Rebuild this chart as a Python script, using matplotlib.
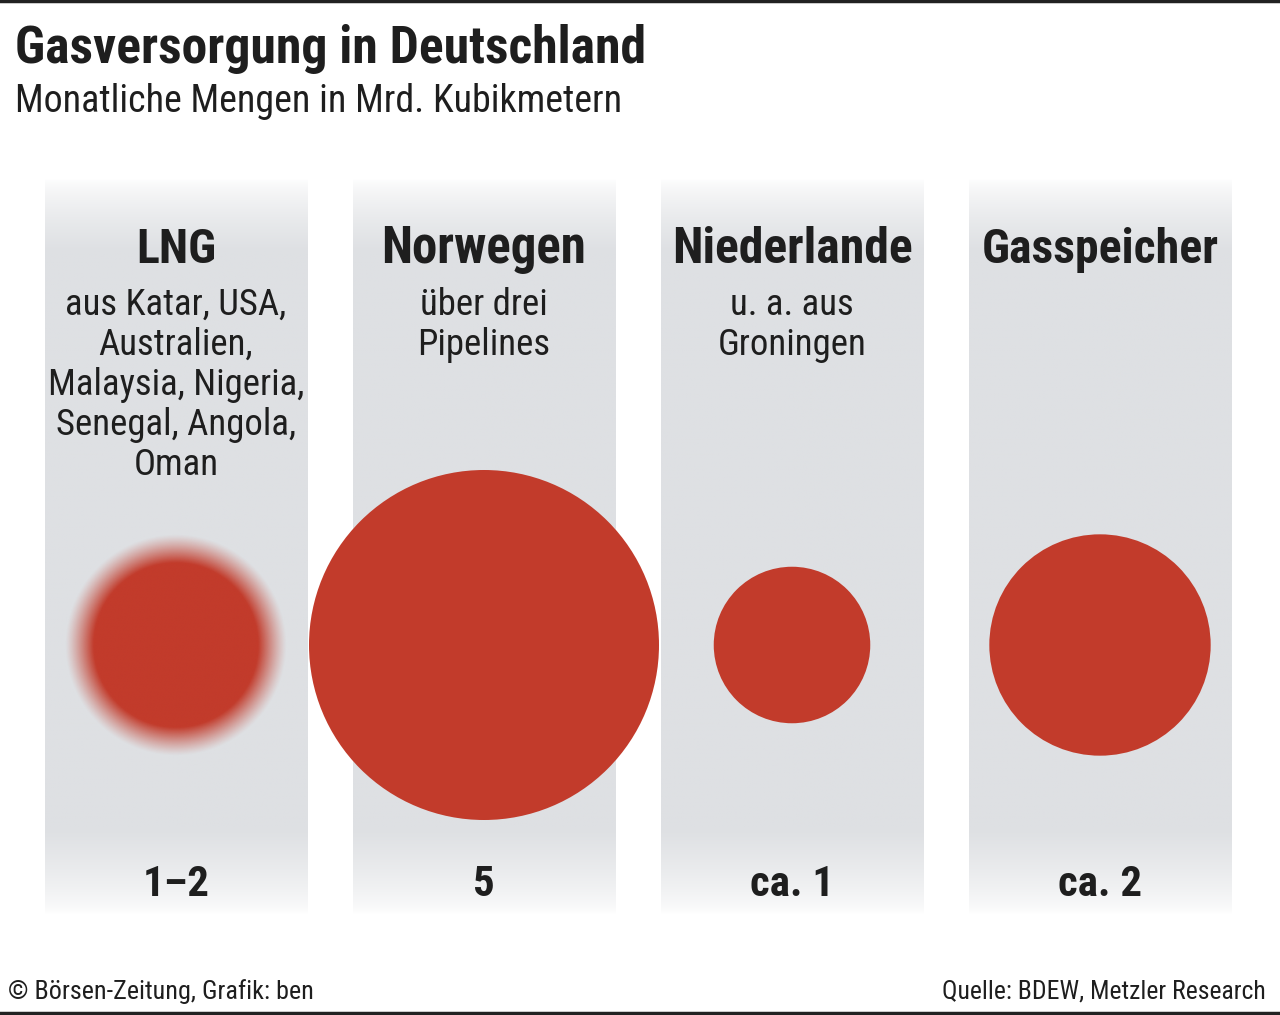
import numpy as np
import matplotlib
matplotlib.use("Agg")
import matplotlib.pyplot as plt
from matplotlib.patches import Circle

# === Daten === #
categories = ["LNG", "Norwegen", "Niederlande", "Gasspeicher"]
descriptions = [
    "aus Katar, USA,\nAustralien,\nMalaysia, Nigeria,\nSenegal, Angola,\nOman",
    "über drei\nPipelines",
    "u. a. aus\nGroningen",
    "",
]
value_labels = ["1–2", "5", "ca. 1", "ca. 2"]
values_low = [1, 5, 1, 2]
values_high = [2, 5, 1, 2]

title = "Gasversorgung in Deutschland"
subtitle = "Monatliche Mengen in Mrd. Kubikmetern"
credit = "© Börsen-Zeitung, Grafik: ben"
source = "Quelle: BDEW, Metzler Research"

RED = "#c23b2b"
INK = "#1e1e1e"
GRAY = np.array([222, 224, 227]) / 255.0
FONT = ["Roboto Condensed", "Roboto", "DejaVu Sans"]

W, H = 1280, 1015
fig = plt.figure(figsize=(W / 100, H / 100), dpi=100)
ax = fig.add_axes([0, 0, 1, 1])
ax.set_xlim(0, W)
ax.set_ylim(H, 0)
ax.axis("off")
renderer = fig.canvas.get_renderer()


def fit(txt, target_w):
    # Schriftgröße so setzen, dass die Breite passt
    w = txt.get_window_extent(renderer).width
    txt.set_fontsize(txt.get_fontsize() * target_w / w)
    return txt


# === Säulen mit Verlauf === #
col_w = 263
centers = [176 + 308 * i for i in range(4)]
y_top, y_bot = 178, 915
ys = np.linspace(y_top, y_bot, 400)
t = np.ones_like(ys)
t = np.where(ys < 250, (ys - y_top) / (250 - y_top), t)
t = np.where(ys > 830, (y_bot - ys) / (y_bot - 830), t)
t = np.clip(t, 0, 1) ** 0.7
col = np.ones((len(ys), 1, 3)) * (1 - t[:, None, None]) + GRAY * t[:, None, None]
for cx in centers:
    ax.imshow(col, extent=[cx - col_w / 2, cx + col_w / 2, y_bot, y_top],
              aspect="auto", interpolation="bilinear", zorder=1)

# === Kreise (Fläche proportional zur Menge) === #
r_max = 175
cy = 645
for cx, lo, hi in zip(centers, values_low, values_high):
    r_lo = r_max * np.sqrt(lo / max(values_high))
    r_hi = r_max * np.sqrt(hi / max(values_high))
    if hi > lo:
        n = 400
        xx = np.linspace(-r_hi - 5, r_hi + 5, n)
        X, Y = np.meshgrid(xx, xx)
        R = np.hypot(X, Y)
        a = np.clip((r_hi - R) / (r_hi - r_lo - 4), 0, 1)
        a = a ** 1.2
        img = np.zeros((n, n, 4))
        img[..., :3] = matplotlib.colors.to_rgb(RED)
        img[..., 3] = a
        ax.imshow(img, extent=[cx - r_hi - 5, cx + r_hi + 5, cy + r_hi + 5, cy - r_hi - 5],
                  interpolation="bilinear", zorder=2)
    else:
        ax.add_patch(Circle((cx, cy), r_lo, color=RED, lw=0, zorder=2))

# === Texte === #
head_w = {"LNG": 80, "Norwegen": 205, "Niederlande": 241, "Gasspeicher": 237}
line_w = {"aus Katar, USA,": 215}
val_w = {"1–2": 66, "5": 20, "ca. 1": 84, "ca. 2": 84}

head_size = None
for cx, cat in zip(centers, categories):
    t_ = ax.text(cx, 263, cat, ha="center", va="baseline", fontsize=30,
                 fontweight="bold", color=INK, family=FONT, zorder=3)
    fit(t_, head_w[cat])
    head_size = t_.get_fontsize() if head_size is None else min(head_size, t_.get_fontsize())

desc_size = None
for cx, desc in zip(centers, descriptions):
    for k, line in enumerate(desc.split("\n")):
        if not line:
            continue
        t_ = ax.text(cx, 315 + 40 * k, line, ha="center", va="baseline", fontsize=22,
                     color=INK, family=FONT, zorder=3)
        if line == "Malaysia, Nigeria,":
            fit(t_, 256)
            desc_size = t_.get_fontsize()
for child in ax.texts:
    if child.get_position()[1] >= 315 and child.get_position()[1] < 500:
        child.set_fontsize(desc_size)

for cx, lab in zip(centers, value_labels):
    t_ = ax.text(cx, 896, lab, ha="center", va="baseline", fontsize=30,
                 fontweight="bold", color=INK, family=FONT, zorder=3)
    if lab == "ca. 2":
        fit(t_, 84)
        val_size = t_.get_fontsize()
for child in ax.texts:
    if child.get_position()[1] == 896:
        child.set_fontsize(val_size)

tt = ax.text(15, 63, title, ha="left", va="baseline", fontsize=40,
             fontweight="bold", color=INK, family=FONT)
fit(tt, 630)
st = ax.text(15, 112, subtitle, ha="left", va="baseline", fontsize=24,
             color=INK, family=FONT)
fit(st, 608)
ct = ax.text(8, 999, credit, ha="left", va="baseline", fontsize=16,
             color=INK, family=FONT)
fit(ct, 307)
qt = ax.text(1266, 999, source, ha="right", va="baseline", fontsize=16,
             color=INK, family=FONT)
fit(qt, 326)

# Rahmenlinien oben und unten
ax.plot([0, W], [1, 1], color="#222222", lw=2.5)
ax.plot([0, W], [1013, 1013], color="#222222", lw=2.5)

plt.savefig("out.png", dpi=100)
plt.close()
